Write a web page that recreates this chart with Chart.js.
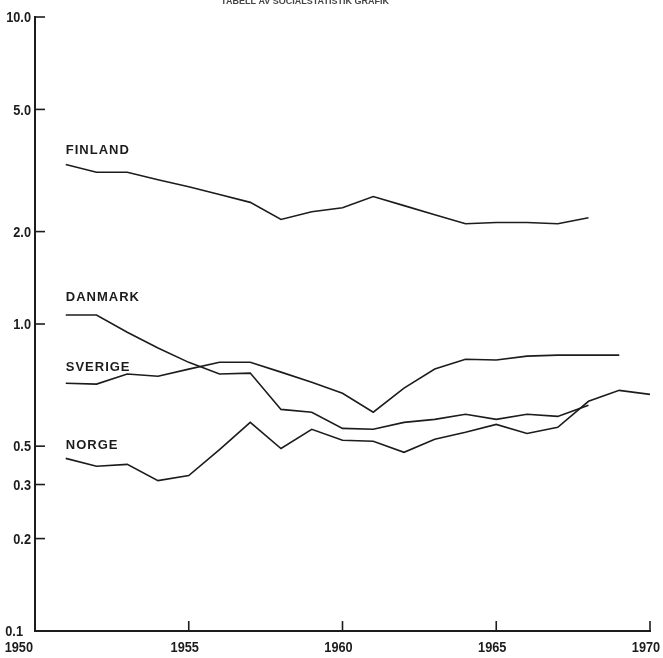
<!DOCTYPE html>
<html>
<head>
<meta charset="utf-8">
<script src="https://cdn.jsdelivr.net/npm/chart.js@4.4.1/dist/chart.umd.min.js"></script>
<style>
  html, body { margin: 0; padding: 0; background: #fff; }
  canvas { display: block; }
</style>
</head>
<body>
<canvas id="myChart" width="663" height="658"></canvas>
<script>
const years = [1951, 1952, 1953, 1954, 1955, 1956, 1957, 1958, 1959, 1960,
               1961, 1962, 1963, 1964, 1965, 1966, 1967, 1968, 1969, 1970];

const finland = [3.31, 3.12, 3.12, 2.95, 2.80, 2.64, 2.49, 2.19, 2.32, 2.39,
                 2.60, 2.43, 2.27, 2.12, 2.14, 2.14, 2.12, 2.22];
const danmark = [1.07, 1.07, 0.94, 0.835, 0.75, 0.687, 0.692, 0.527, 0.516, 0.457,
                 0.454, 0.478, 0.489, 0.508, 0.489, 0.508, 0.50, 0.544];
const sverige = [0.641, 0.637, 0.687, 0.676, 0.713, 0.751, 0.751, 0.697, 0.646, 0.595,
                 0.516, 0.618, 0.713, 0.768, 0.763, 0.786, 0.792, 0.792, 0.792];
const norge = [0.365, 0.344, 0.349, 0.309, 0.321, 0.39, 0.478, 0.393, 0.454, 0.418,
               0.415, 0.382, 0.421, 0.444, 0.471, 0.440, 0.461, 0.56, 0.608, 0.59];

const seriesNames = ['FINLAND', 'DANMARK', 'SVERIGE', 'NORGE'];
const labelOffsets = [7, 11, 9, 6];

const xTicks = [1950, 1955, 1960, 1965, 1970];
const yTicks = [0.1, 0.2, 0.3, 0.4, 1, 2, 5, 10];
const yTickLabels = ['0.1', '0.2', '0.3', '0.5', '1.0', '2.0', '5.0', '10.0'];

const titleText = 'TABELL AV SOCIALSTATISTIK GRAFIK';

const ink = '#1c1c1c';
const tickFont = "bold 15px 'Liberation Sans', 'DejaVu Sans', sans-serif";

function toPoints(values) {
  return values.map((v, i) => ({ x: years[i], y: v }));
}

// text squeezed sideways, like the narrow lettering of the print
function narrowText(c, text, x, y, align) {
  c.save();
  c.translate(x, y);
  c.scale(0.85, 1);
  c.textAlign = align;
  c.fillText(text, 0, 0);
  c.restore();
}

const lineStyle = {
  borderColor: ink,
  borderWidth: 1.6,
  pointRadius: 0,
  tension: 0,
  fill: false
};

// inward tick marks, tick labels, series names and the cut-off heading
const decorations = {
  id: 'decorations',
  afterDraw(chart) {
    const c = chart.ctx;
    const xs = chart.scales.x;
    const ys = chart.scales.y;
    const area = chart.chartArea;
    c.save();
    c.strokeStyle = ink;
    c.lineWidth = 1.6;
    yTicks.forEach(v => {
      if (v === 0.1) return;
      const py = ys.getPixelForValue(v);
      c.beginPath();
      c.moveTo(area.left, py);
      c.lineTo(area.left + 10, py);
      c.stroke();
    });
    xTicks.forEach(v => {
      if (v === 1950) return;
      const px = xs.getPixelForValue(v);
      c.beginPath();
      c.moveTo(px, area.bottom);
      c.lineTo(px, area.bottom - 10);
      c.stroke();
    });

    c.fillStyle = ink;
    c.font = tickFont;
    c.textBaseline = 'middle';
    yTicks.forEach((v, i) => {
      const py = ys.getPixelForValue(v);
      const right = v === 0.1 ? area.left - 12 : area.left - 4;
      narrowText(c, yTickLabels[i], right, py + 1, 'right');
    });
    xTicks.forEach((v, i) => {
      const px = xs.getPixelForValue(v);
      if (i === 0) {
        narrowText(c, String(v), px - 2, area.bottom + 17, 'right');
      } else {
        narrowText(c, String(v), px - 4, area.bottom + 17, 'center');
      }
    });

    c.font = "bold 13px 'Liberation Sans', 'DejaVu Sans', sans-serif";
    c.letterSpacing = '1px';
    c.textAlign = 'left';
    c.textBaseline = 'bottom';
    chart.data.datasets.forEach((ds, i) => {
      const p = ds.data[0];
      c.fillText(seriesNames[i], xs.getPixelForValue(p.x), ys.getPixelForValue(p.y) - labelOffsets[i]);
    });

    c.letterSpacing = '0px';
    c.fillStyle = '#444';
    c.font = "bold 9px 'Liberation Sans', sans-serif";
    c.textAlign = 'center';
    c.fillText(titleText, 305, 6);
    c.restore();
  }
};

const ctx = document.getElementById('myChart').getContext('2d');
const myChart = new Chart(ctx, {
  type: 'line',
  data: {
    datasets: [
      { label: 'Finland', data: toPoints(finland), ...lineStyle },
      { label: 'Danmark', data: toPoints(danmark), ...lineStyle },
      { label: 'Sverige', data: toPoints(sverige), ...lineStyle },
      { label: 'Norge', data: toPoints(norge), ...lineStyle }
    ]
  },
  options: {
    responsive: false,
    animation: false,
    layout: { padding: { top: 17, right: 13, left: 0, bottom: 0 } },
    plugins: {
      legend: { display: false },
      tooltip: { enabled: false },
      title: { display: false }
    },
    scales: {
      x: {
        type: 'linear',
        min: 1950,
        max: 1970,
        grid: { display: false },
        border: { display: true, color: ink, width: 2 },
        afterBuildTicks: scale => { scale.ticks = xTicks.map(v => ({ value: v })); },
        afterFit: scale => { scale.height = 27; },
        ticks: { display: false }
      },
      y: {
        type: 'logarithmic',
        min: 0.1,
        max: 10,
        grid: { display: false },
        border: { display: true, color: ink, width: 2 },
        afterBuildTicks: scale => { scale.ticks = yTicks.map(v => ({ value: v })); },
        afterFit: scale => { scale.width = 35; },
        ticks: { display: false }
      }
    }
  },
  plugins: [decorations]
});
</script>
</body>
</html>
